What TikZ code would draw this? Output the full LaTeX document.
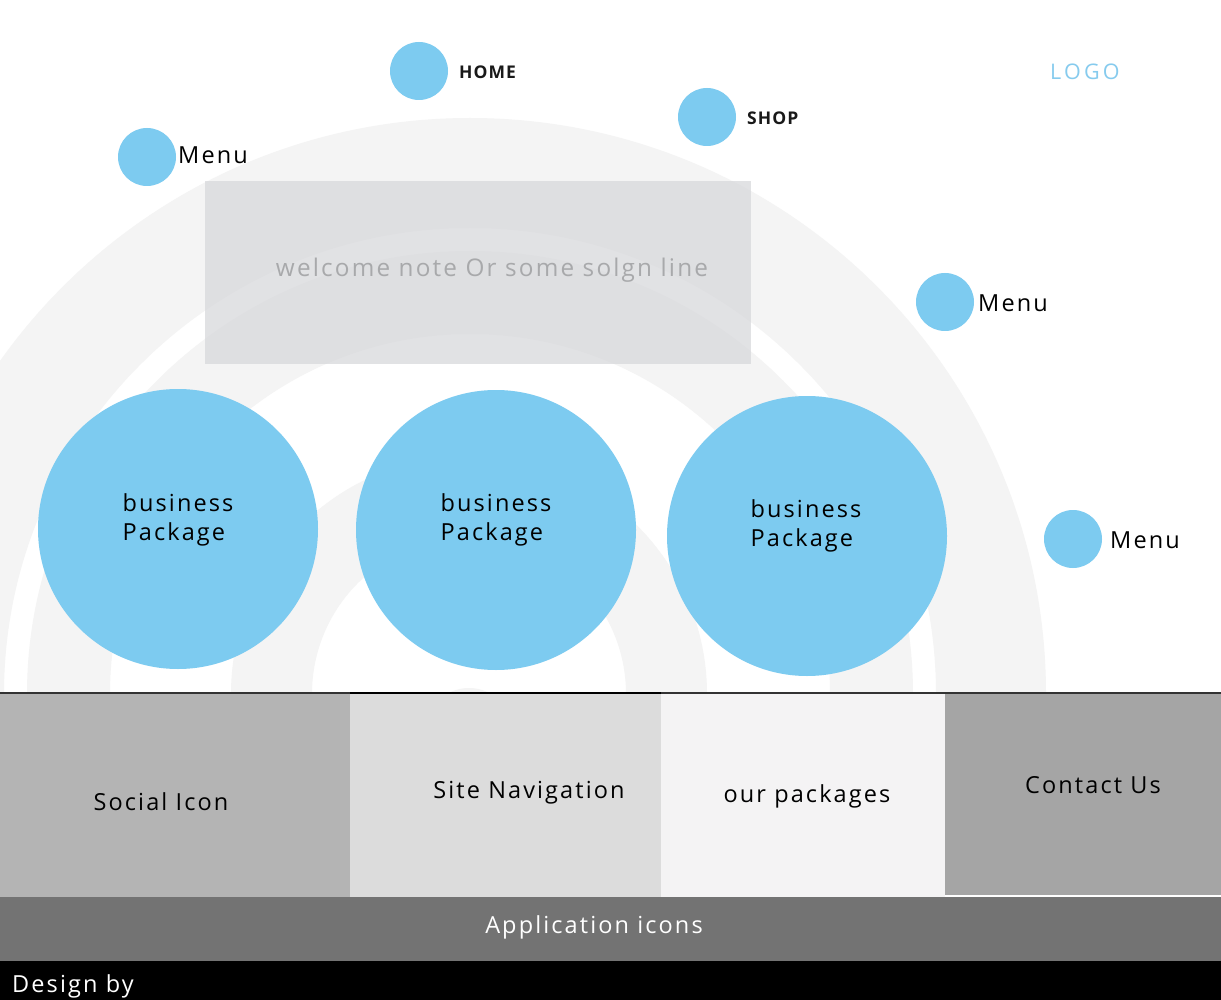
\documentclass[tikz,border=0pt]{standalone}
\usepackage{fontspec}
\setmainfont{Open Sans}[LetterSpace=9]
\newfontfamily\navfont{Open Sans}[LetterSpace=6]
\newfontfamily\logofont{Open Sans}[LetterSpace=15]
\definecolor{sky}{RGB}{125,203,240}
\definecolor{band}{RGB}{244,244,244}
\definecolor{boxgray}{RGB}{214,215,218}
\definecolor{welcometxt}{RGB}{168,169,171}
\definecolor{gsoc}{RGB}{180,180,180}
\definecolor{gnav}{RGB}{220,220,220}
\definecolor{gpkg}{RGB}{244,243,244}
\definecolor{gcon}{RGB}{165,165,165}
\definecolor{gapp}{RGB}{115,115,115}
\definecolor{logoblue}{RGB}{134,203,238}
\tikzset{
  dot/.style={circle, fill=sky, draw=none, inner sep=0pt, minimum size=58pt},
  bigc/.style={circle, fill=sky, draw=none, inner sep=0pt, minimum size=280pt},
  lbl/.style={inner sep=0pt, anchor=west, text=black, font=\fontsize{23.5}{28}\selectfont},
  navlbl/.style={inner sep=0pt, anchor=west, text=black!90, font=\navfont\bfseries\fontsize{17.5}{20}\selectfont},
  ptext/.style={inner sep=0pt, align=left, text=black, font=\fontsize{23.5}{29}\selectfont},
  sec/.style={draw=none, inner sep=0pt, anchor=north west},
  sectext/.style={inner sep=0pt, text=black, font=\fontsize{23.5}{28}\selectfont}
}
\begin{document}
\begin{tikzpicture}[x=1pt,y=-1pt]
\useasboundingbox (0,0) rectangle (1221,1000);
\fill[white] (0,0) rectangle (1221,1000);
% background arches
\begin{scope}
  \clip (0,0) rectangle (1221,693);
  \fill[band, even odd rule] (470,694) circle[radius=576] (470,694) circle[radius=466];
  \fill[band, even odd rule] (470,694) circle[radius=443] (470,694) circle[radius=360];
  \fill[band, even odd rule] (469,694) circle[radius=238] (469,694) circle[radius=157];
  \fill[band, even odd rule] (469,732) circle[radius=44] (469,732) circle[radius=20];
\end{scope}
% welcome box
\node[sec, fill=boxgray, fill opacity=0.72, minimum width=546pt, minimum height=183pt] (welcome) at (205,181) {};
\node[inner sep=0pt, text=welcometxt, font=\fontsize{24.3}{28}\selectfont] (welcometext) at (492,270) {welcome note Or some solgn line};
% small menu dots
\node[dot] (d1) at (147,157) {};
\node[lbl] (d1t) at (178,155) {Menu};
\node[dot] (d2) at (419,71) {};
\node[navlbl] (d2t) at (459,72) {HOME};
\node[dot] (d3) at (707,117) {};
\node[navlbl] (d3t) at (747,118) {SHOP};
\node[dot] (d4) at (945,302) {};
\node[lbl] (d4t) at (978,303) {Menu};
\node[dot] (d5) at (1073,539) {};
\node[lbl] (d5t) at (1110,540) {Menu};
\node[inner sep=0pt, anchor=west, text=logoblue, font=\logofont\fontsize{21.5}{25}\selectfont] (logo) at (1050,72) {LOGO};
% business packages
\node[bigc] (p1) at (178,529) {};
\node[ptext] (p1t) at (178,520) {business\\Package};
\node[bigc] (p2) at (496,530) {};
\node[ptext] (p2t) at (496,520) {business\\Package};
\node[bigc] (p3) at (807,536) {};
\node[ptext] (p3t) at (806,526) {business\\Package};
% bottom sections
\node[sec, fill=gsoc, minimum width=350pt, minimum height=204pt] (soc) at (0,693) {};
\node[sec, fill=gnav, minimum width=311pt, minimum height=204pt] (nav) at (350,693) {};
\node[sec, fill=gpkg, minimum width=284pt, minimum height=204pt] (pkg) at (661,693) {};
\node[sec, fill=gcon, minimum width=276pt, minimum height=202pt] (con) at (945,693) {};
\node[sec, fill=gapp, minimum width=1221pt, minimum height=64pt] (app) at (0,897) {};
\node[sec, fill=black, minimum width=1221pt, minimum height=39pt] (des) at (0,961) {};
\draw[line width=1.6pt, black!80] (soc.north west) -- (con.north east);
\draw[line width=2.4pt, black] (nav.north west) -- (nav.north east);
\node[sectext] (soct) at (161,802) {Social Icon};
\node[sectext] (navt) at (529,793) {Site Navigation};
\node[sectext] (pkgt) at (807,796) {our packages};
\node[sectext] (cont) at (1093,785) {Contact Us};
\node[sectext, text=white] (appt) at (594,927) {Application icons};
\node[sectext, text=white, anchor=west] (dest) at (12,986) {Design by};
\end{tikzpicture}
\end{document}
